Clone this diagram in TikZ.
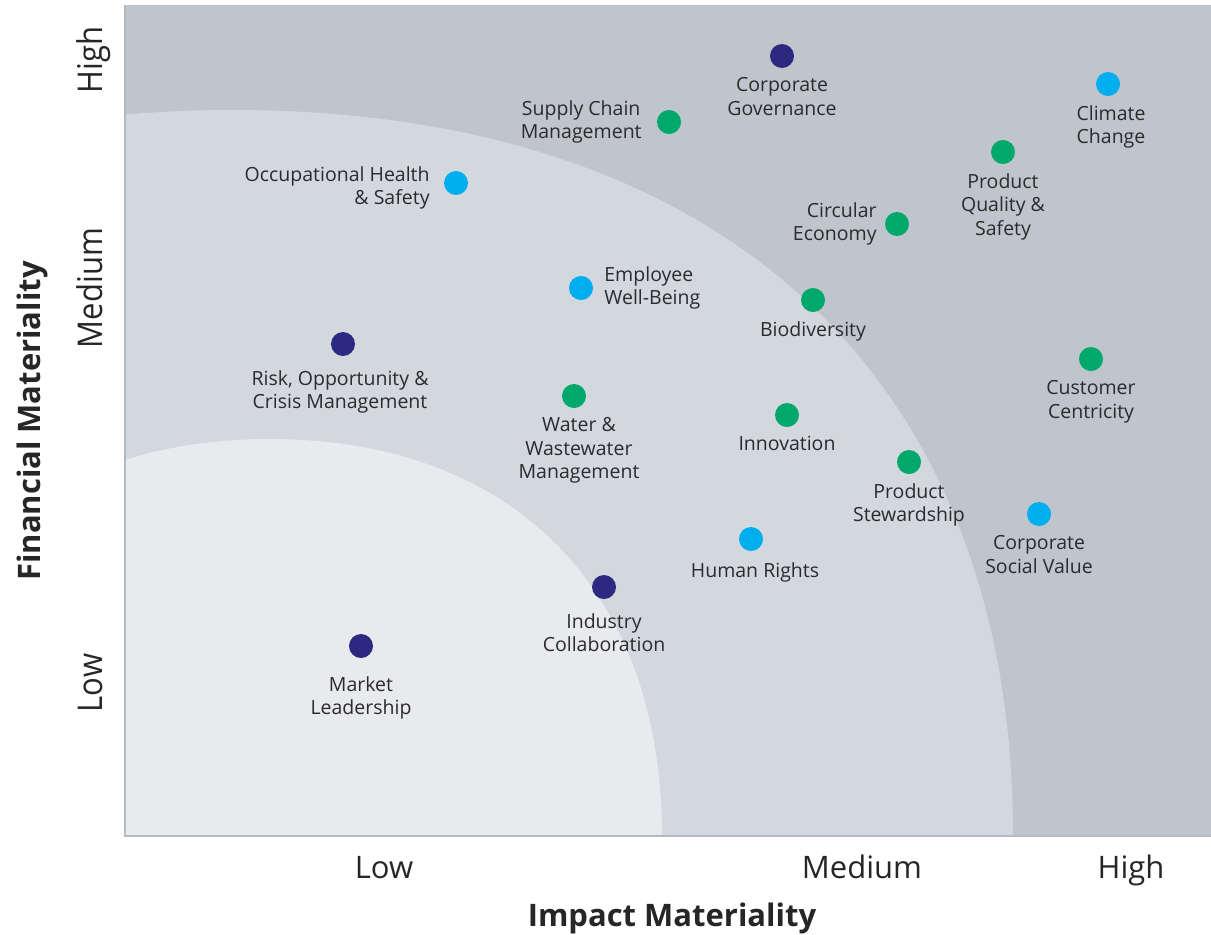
\documentclass[tikz,border=0pt]{standalone}
\usepackage{fontspec}
\setmainfont{Open Sans}
\usetikzlibrary{positioning}

\definecolor{zonehigh}{HTML}{BEC5CC}
\definecolor{zonemid}{HTML}{D3D8DF}
\definecolor{zonelow}{HTML}{E8EAED}
\definecolor{axisline}{HTML}{B3BAC2}
\definecolor{govnavy}{HTML}{2B2A80}
\definecolor{envgreen}{HTML}{00A86B}
\definecolor{soccyan}{HTML}{00AEEF}
\definecolor{labeltext}{HTML}{2B2B2B}

\tikzset{
  issue/.style={circle, inner sep=0pt, minimum size=24pt},
  gov/.style={issue, fill=govnavy},
  env/.style={issue, fill=envgreen},
  soc/.style={issue, fill=soccyan},
  lbl/.style={inner sep=0pt, text=labeltext, align=center,
    font=\fontsize{19.5}{23.5}\selectfont},
  levellabel/.style={inner sep=0pt, anchor=base, text=black!85,
    font=\fontsize{31}{36}\selectfont},
  axistitle/.style={inner sep=0pt, anchor=base, text=black!85,
    font=\fontsize{31}{36}\selectfont\bfseries}
}

\begin{document}
\begin{tikzpicture}[x=1pt, y=-1pt]
  \useasboundingbox (0,0) rectangle (1211,935);
  % materiality zones
  \fill[zonehigh] (124,5) rectangle (1211,836);
  \begin{scope}
    \clip (124,5) rectangle (1211,836);
    \fill[zonemid] (-547,836) .. controls (-547,379) and (-258,110) .. (233,110)
      .. controls (724,110) and (1013,379) .. (1013,836) -- cycle;
    \fill[zonelow] (-122,836) .. controls (-122,590) and (27,439) .. (270,439)
      .. controls (513,439) and (662,590) .. (662,836) -- cycle;
  \end{scope}
  \draw[axisline, line width=2pt] (125,5) -- (125,836) -- (1211,836);

  % issues
  \node[gov] (cg) at (782,56) {};
  \node[lbl, below=9pt of cg] (cglbl) {Corporate\\Governance};
  \node[soc] (cc) at (1108,84) {};
  \node[lbl, below=9pt of cc, xshift=3pt] (cclbl) {Climate\\Change};
  \node[env] (scm) at (669,122) {};
  \node[lbl, left=15pt of scm] (scmlbl) {Supply Chain\\Management};
  \node[env] (pqs) at (1003,152) {};
  \node[lbl, below=9pt of pqs] (pqslbl) {Product\\Quality \&\\Safety};
  \node[soc] (ohs) at (456,183) {};
  \node[lbl, left=14pt of ohs, align=right, yshift=-5pt] (ohslbl) {Occupational Health\\\& Safety};
  \node[env] (ce) at (897,224) {};
  \node[lbl, left=8pt of ce, align=right] (celbl) {Circular\\Economy};
  \node[soc] (ewb) at (581,288) {};
  \node[lbl, right=11pt of ewb, align=left] (ewblbl) {Employee\\Well-Being};
  \node[env] (bio) at (813,300) {};
  \node[lbl, below=9pt of bio] (biolbl) {Biodiversity};
  \node[gov] (rocm) at (343,344) {};
  \node[lbl, below=14pt of rocm, xshift=-3pt] (rocmlbl) {Risk, Opportunity \&\\Crisis Management};
  \node[env] (cust) at (1091,359) {};
  \node[lbl, below=9pt of cust] (custlbl) {Customer\\Centricity};
  \node[env] (wwm) at (574,396) {};
  \node[lbl, below=9pt of wwm, xshift=5pt] (wwmlbl) {Water \&\\Wastewater\\Management};
  \node[env] (inno) at (787,415) {};
  \node[lbl, below=9pt of inno] (innolbl) {Innovation};
  \node[env] (ps) at (909,462) {};
  \node[lbl, below=9pt of ps] (pslbl) {Product\\Stewardship};
  \node[soc] (csv) at (1039,514) {};
  \node[lbl, below=9pt of csv] (csvlbl) {Corporate\\Social Value};
  \node[soc] (hr) at (751,539) {};
  \node[lbl, below=11pt of hr, xshift=4pt] (hrlbl) {Human Rights};
  \node[gov] (ic) at (604,587) {};
  \node[lbl, below=14pt of ic] (iclbl) {Industry\\Collaboration};
  \node[gov] (ml) at (361,646) {};
  \node[lbl, below=18pt of ml] (mllbl) {Market\\Leadership};

  % axes
  \node[levellabel] (xlow) at (384,878) {Low};
  \node[levellabel] (xmed) at (862,878) {Medium};
  \node[levellabel] (xhigh) at (1131,878) {High};
  \node[axistitle] (xtitle) at (672,926) {Impact Materiality};
  \node[levellabel, rotate=90, yscale=1.1] (ylow) at (102,683) {Low};
  \node[levellabel, rotate=90, yscale=1.1] (ymed) at (102,288) {Medium};
  \node[levellabel, rotate=90, yscale=1.1] (yhigh) at (102,60) {High};
  \node[axistitle, rotate=90] (ytitle) at (40,421) {Financial Materiality};
\end{tikzpicture}
\end{document}
